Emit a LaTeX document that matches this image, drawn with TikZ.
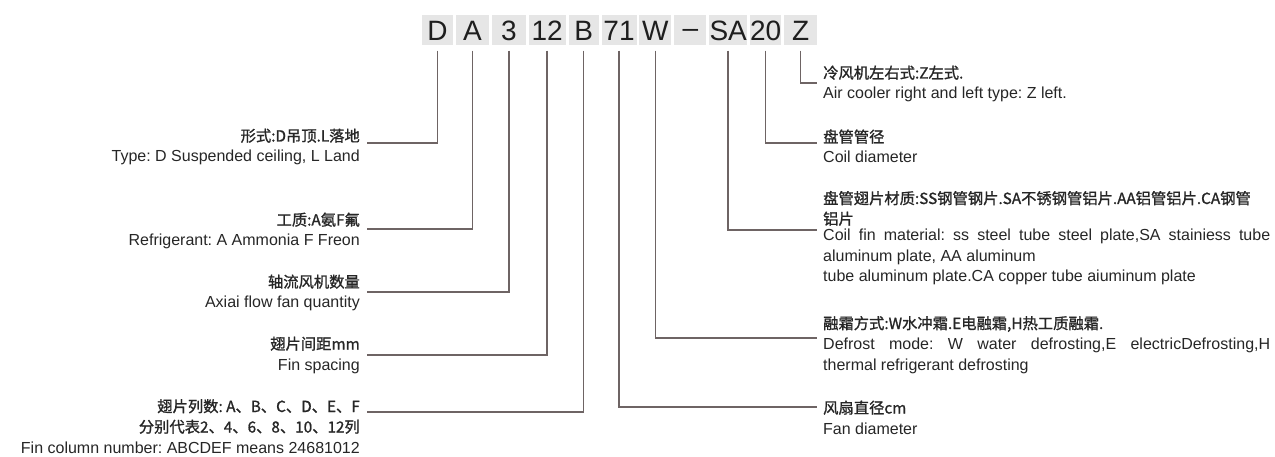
\documentclass[tikz,border=0pt]{standalone}
\usepackage{fontspec}
\setmainfont{Liberation Sans}
\newfontfamily\cjk[FakeBold=1.2]{Noto Sans CJK SC}
\usetikzlibrary{positioning}
\definecolor{codebg}{HTML}{E6E6E6}
\definecolor{codetext}{HTML}{1E1E1E}
\definecolor{linkcolor}{HTML}{6E6464}
\definecolor{labeltext}{HTML}{262626}
\newcommand{\zh}[1]{{\cjk\fontsize{15.3}{20}\selectfont #1}}
\tolerance=10000
\hbadness=10000
\frenchspacing

\begin{document}
\begin{tikzpicture}[x=1pt, y=-1pt,
  node distance=0pt and 2.5pt,
  codebox/.style={
    fill=codebg, text=codetext, inner sep=0pt,
    minimum height=30pt, text height=20pt, text depth=0pt,
    font=\fontsize{28}{30}\selectfont
  },
  lbl/.style={inner sep=0pt, text=labeltext, font=\fontsize{16}{20.5}\selectfont},
  link/.style={draw=linkcolor, line width=1.5pt},
]
  \useasboundingbox (0,0) rectangle (1275,457);

  % Model code row
  \node[codebox, minimum width=31pt] (cD) at (437.5,30.5) {D};
  \node[codebox, minimum width=33pt, right=of cD]  (cA)   {A};
  \node[codebox, minimum width=34pt, right=of cA]  (cN)   {3};
  \node[codebox, minimum width=37pt, right=of cN]  (cFs)  {12};
  \node[codebox, minimum width=30pt, right=of cFs] (cB)   {B};
  \node[codebox, minimum width=35pt, right=of cB]  (cFan) {71};
  \node[codebox, minimum width=32pt, right=of cFan] (cW)  {W};
  \node[codebox, minimum width=32pt, right=of cW]  (cDash) {\raisebox{3pt}{--}};
  \node[codebox, minimum width=38pt, right=of cDash] (cSA) {SA};
  \node[codebox, minimum width=31pt, right=of cSA] (cPipe) {20};
  \node[codebox, minimum width=33pt, right=of cPipe] (cZ) {Z};

  % Left labels
  \node[lbl, align=right, anchor=base east] (tD) at (360,162)
    {\zh{形式:D吊顶.L落地}\\Type: D Suspended ceiling, L Land};
  \node[lbl, align=right, anchor=base east] (tA) at (360,246)
    {\zh{工质:A氨F氟}\\Refrigerant: A Ammonia F Freon};
  \node[lbl, align=right, anchor=base east] (tN) at (360,308)
    {\zh{轴流风机数量}\\Axiai flow fan quantity};
  \node[lbl, align=right, anchor=base east] (tFs) at (360,370)
    {\zh{翅片间距mm}\\Fin spacing};
  \node[lbl, align=right, anchor=base east] (tB) at (360,453)
    {\zh{翅片列数: A、B、C、D、E、F}\\\zh{分别代表2、4、6、8、10、12列}\\Fin column number: ABCDEF means 24681012};

  % Right labels
  \node[lbl, align=left, anchor=base west] (tZ) at (823,99)
    {\zh{冷风机左右式:Z左式.}\\Air cooler right and left type: Z left.};
  \node[lbl, align=left, anchor=base west] (tPipe) at (823,163)
    {\zh{盘管管径}\\Coil diameter};
  \node[lbl, text width=447pt, align=justify, anchor=base west] (tSA) at (823,204)
    {\zh{盘管翅片材质:SS钢管钢片.SA不锈钢管铝片.AA铝管铝片.CA钢管}\\\zh{铝片}\\[-4pt]Coil fin material: ss steel tube steel plate,SA stainiess tube\linebreak aluminum plate, AA aluminum\\tube aluminum plate.CA copper tube aiuminum plate};
  \node[lbl, text width=447pt, align=justify, anchor=base west] (tW) at (823,329)
    {\zh{融霜方式:W水冲霜.E电融霜,H热工质融霜.}\\Defrost mode: W water defrosting,E electricDefrosting,H\linebreak thermal refrigerant defrosting};
  \node[lbl, align=left, anchor=base west] (tFan) at (823,434)
    {\zh{风扇直径cm}\\Fan diameter};

  % Left connectors
  \draw[link] ([yshift=-5pt]cD.south)   |- ([xshift=7pt,yshift=19pt]tD.base east);
  \draw[link] ([yshift=-5pt]cA.south)   |- ([xshift=7pt,yshift=17pt]tA.base east);
  \draw[link] ([yshift=-5pt]cN.south)   |- ([xshift=7pt,yshift=16pt]tN.base east);
  \draw[link] ([yshift=-5pt]cFs.south)  |- ([xshift=7pt,yshift=15pt]tFs.base east);
  \draw[link] ([yshift=-5pt]cB.south)   |- ([xshift=7pt,yshift=41pt]tB.base east);

  % Right connectors
  \draw[link] ([yshift=-5pt]cZ.south)    |- ([xshift=-6pt,yshift=16pt]tZ.base west);
  \draw[link] ([yshift=-5pt]cPipe.south) |- ([xshift=-6pt,yshift=20pt]tPipe.base west);
  \draw[link] ([yshift=-5pt]cSA.south)   |- ([xshift=-6pt,yshift=-26pt]tSA.base west);
  \draw[link] ([yshift=-5pt]cW.south)    |- ([xshift=-6pt,yshift=-9pt]tW.base west);
  \draw[link] ([yshift=-5pt]cFan.south)  |- ([xshift=-6pt,yshift=27pt]tFan.base west);
\end{tikzpicture}
\end{document}
